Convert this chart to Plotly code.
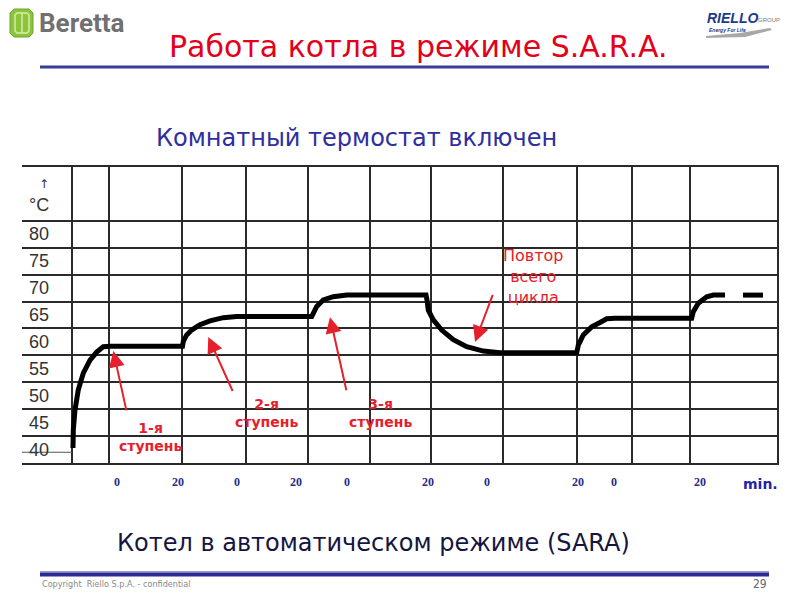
import plotly.graph_objects as go

# ---------------- data ----------------
# temperature band labels (°C)
y_labels = [40, 45, 50, 55, 60, 65, 70, 75, 80]
# horizontal grid boundaries between the temperature bands
h_grid = [42.5, 47.5, 52.5, 57.5, 62.5, 67.5, 72.5, 77.5, 82.5]
# vertical grid lines (running time scale, minutes)
v_grid = [-15, -2.67, 21.67, 43, 63.67, 84.33, 104.67, 128.67, 153.33, 171.67, 191, 220.33]
# x tick labels (each stage restarts at 0)
x_tick_pos = [0, 20.33, 40, 59.67, 76.67, 103.67, 123.33, 153.67, 165.67, 194.33]
x_tick_text = ["0", "20", "0", "20", "0", "20", "0", "20", "0", "20"]

# boiler flow temperature curve (None = break before the final dash)
curve_t = [-14.67, -14.57, -14.0, -12.9, -11.23, -9.0, -6.77, -4.57, -2.33,
           21.83, 22.1, 23.23, 24.9, 27.67, 31.0, 35.43, 39.9,
           64.9, 65.43, 66.57, 68.77, 72.1, 76.57,
           103.0, 103.33, 103.77, 105.43, 108.23, 112.1, 116.57, 122.1, 127.67,
           153.23, 153.77, 155.43, 158.23, 161.0, 163.23, 166.0,
           191.57, 192.1, 193.77, 196.57, 198.77, 202.67,
           None, 208.67, 215.33]
curve_temp = [40.3, 43.6, 47.4, 51.1, 54.2, 56.6, 58.1, 59.1, 59.2,
              59.2, 60.1, 61.3, 62.2, 63.2, 63.9, 64.5, 64.7,
              64.7, 65.3, 66.6, 67.8, 68.4, 68.7,
              68.7, 67.8, 65.9, 64.1, 62.2, 60.4, 59.1, 58.3, 58.0,
              58.0, 59.4, 61.3, 62.8, 63.6, 64.3, 64.4,
              64.4, 65.6, 67.2, 68.4, 68.7, 68.7,
              None, 68.7, 68.7]

# stage annotations
stage_labels = ["1-я<br>ступень", "2-я<br>ступень", "3-я<br>ступень", "Повтор<br>всего<br>цикла"]
stage_text_t = [11, 49.9, 87.67, 138.67]
stage_text_temp = [42.3, 46.8, 46.8, 72.1]
arrow_tail_t = [3.23, 38.77, 76.57, 125.43]
arrow_tail_temp = [47.0, 50.6, 50.75, 69.0]
arrow_head_t = [-1.23, 30.43, 71.0, 119.33]
arrow_head_temp = [58.3, 60.9, 64.6, 60.0]

# ---------------- layout geometry ----------------
W, H = 800, 600
L, R, T, B = 22, 779, 167, 463
X0, X1 = (L - 117) / 3, (R - 117) / 3
Y0, Y1 = 37.5, 92.5


def P(px, py):
    """pixel -> paper coordinates (for decorations outside the chart)"""
    return (px - L) / (R - L), (B - py) / (B - T)


def text_at(px, py, text, font, xanchor="center"):
    x, y = P(px, py)
    return dict(x=x, y=y, xref="paper", yref="paper", text=text, showarrow=False,
                xanchor=xanchor, yanchor="middle", font=font)


fig = go.Figure()

fig.add_trace(go.Scatter(
    x=curve_t, y=curve_temp, mode="lines",
    line=dict(color="#000000", width=5), connectgaps=False,
    hoverinfo="skip", showlegend=False))

RED = "#E5202A"
ann = []
for i, txt in enumerate(stage_labels):
    ann.append(dict(x=arrow_head_t[i], y=arrow_head_temp[i], ax=arrow_tail_t[i], ay=arrow_tail_temp[i],
                    xref="x", yref="y", axref="x", ayref="y", text="", showarrow=True,
                    arrowhead=2, arrowsize=1.6, arrowwidth=2, arrowcolor=RED))
    bold = i < 3
    ann.append(dict(x=stage_text_t[i], y=stage_text_temp[i], xref="x", yref="y",
                    text=txt, showarrow=False, xanchor="center", yanchor="middle",
                    font=dict(family="DejaVu Sans", size=14 if bold else 16, color=RED,
                              weight="bold" if bold else "normal")))

# y band labels
for v in y_labels:
    ann.append(dict(x=-30, y=v, xref="x", yref="y", text=str(v), showarrow=False,
                    xanchor="left", yanchor="middle",
                    font=dict(family="Liberation Sans", size=18, color="#333333")))
ann.append(dict(x=-30 + 3.3, y=89.4, xref="x", yref="y", text="↑", showarrow=False,
                xanchor="left", yanchor="middle", font=dict(family="DejaVu Sans", size=12, color="#333333")))
ann.append(dict(x=-30, y=85.5, xref="x", yref="y", text="°C", showarrow=False,
                xanchor="left", yanchor="middle", font=dict(family="Liberation Sans", size=18, color="#333333")))

ann.append(text_at(760, 484, "<b>min.</b>", dict(family="DejaVu Sans", size=14, color="#2323A8")))

# titles
ann.append(text_at(418, 47, "Работа котла в режиме S.A.R.A.",
                   dict(family="DejaVu Sans", size=30, color="#E3001B")))
ann.append(text_at(356, 138, "Комнатный термостат включен",
                   dict(family="DejaVu Sans", size=24, color="#2E2E9E")))
ann.append(text_at(373, 543, "Котел в автоматическом режиме (SARA)",
                   dict(family="DejaVu Sans", size=24, color="#15153F")))

# footer
ann.append(text_at(40, 584, "Copyright  Riello S.p.A. - confidential",
                   dict(family="DejaVu Sans Condensed", size=9, color="#888888"), "left"))
ann.append(text_at(769, 584, "29",
                   dict(family="DejaVu Sans Condensed", size=12, color="#666666"), "right"))

# logos (text parts)
ann.append(text_at(37, 23, "<b>Beretta</b>", dict(family="Roboto", size=26, color="#707070"), "left"))
ann.append(text_at(705, 18, "<b><i>RIELLO</i></b>",
                   dict(family="Liberation Sans", size=14, color="#1C3A8C"), "left"))
ann.append(text_at(756, 20, "GROUP", dict(family="Liberation Sans", size=6, color="#777777"), "left"))
ann.append(text_at(707, 30, "<b><i>Energy For Life</i></b>",
                   dict(family="Liberation Sans", size=5, color="#1C3A8C"), "left"))

shapes = []
# strike line through the "40" label area
shapes.append(dict(type="line", xref="x", yref="y", x0=X0, x1=v_grid[0], y0=39.5, y1=39.5,
                   line=dict(color="#555555", width=1.2)))
# header rule
a0 = P(40, 67); a1 = P(769, 67)
shapes.append(dict(type="line", xref="paper", yref="paper", x0=a0[0], x1=a1[0], y0=a0[1], y1=a1[1],
                   line=dict(color="#9A9AD0", width=4)))
shapes.append(dict(type="line", xref="paper", yref="paper", x0=a0[0], x1=a1[0], y0=a0[1], y1=a1[1],
                   line=dict(color="#3C3C98", width=2)))
# footer rule
a0 = P(40, 574); a1 = P(769, 574)
shapes.append(dict(type="line", xref="paper", yref="paper", x0=a0[0], x1=a1[0], y0=a0[1], y1=a1[1],
                   line=dict(color="#2A2A90", width=5)))
a0 = P(40, 572); a1 = P(769, 572)
shapes.append(dict(type="line", xref="paper", yref="paper", x0=a0[0], x1=a1[0], y0=a0[1], y1=a1[1],
                   line=dict(color="#9C9CD6", width=1.5)))


def path(points, close=True):
    s = ""
    for k, (px, py) in enumerate(points):
        x, y = P(px, py)
        s += ("M" if k == 0 else "L") + f"{x:.5f},{y:.5f} "
    return s + ("Z" if close else "")


# Beretta icon (rounded green badge)
icon = [(14, 9), (29, 9), (33, 13), (33, 33), (29, 37), (14, 37), (10, 33), (10, 13)]
shapes.append(dict(type="path", xref="paper", yref="paper", path=path(icon),
                   fillcolor="#8CC43C", line=dict(color="#6FA42A", width=1)))
inner = [(17, 13), (27, 13), (29, 15), (29, 31), (27, 33), (17, 33), (15, 31), (15, 15)]
shapes.append(dict(type="path", xref="paper", yref="paper", path=path(inner),
                   fillcolor="rgba(0,0,0,0)", line=dict(color="#D6EDA8", width=1.5)))
shapes.append(dict(type="line", xref="paper", yref="paper", x0=P(22, 13)[0], x1=P(22, 33)[0],
                   y0=P(22, 13)[1], y1=P(22, 33)[1], line=dict(color="#D6EDA8", width=1.5)))
# Riello swoosh
sw = [(706, 36), (740, 33), (770, 28), (772, 30), (745, 37), (706, 38)]
shapes.append(dict(type="path", xref="paper", yref="paper", path=path(sw),
                   fillcolor="#A8A8A8", line=dict(width=0)))

fig.update_layout(
    width=W, height=H,
    margin=dict(l=L, r=W - R, t=T, b=H - B, pad=0),
    paper_bgcolor="white", plot_bgcolor="white",
    showlegend=False,
    annotations=ann, shapes=shapes,
    xaxis=dict(range=[X0, X1], showgrid=False, zeroline=False,
               showline=True, mirror=True, linecolor="#2a2a2a", linewidth=2,
               tickmode="array", tickvals=x_tick_pos, ticktext=x_tick_text,
               ticks="", ticklabelstandoff=7,
               tickfont=dict(family="Liberation Serif", size=12, color="#2B2B88", weight="bold"),
               minor=dict(tickmode="array", tickvals=v_grid, showgrid=True,
                          gridcolor="#2a2a2a", gridwidth=1.5, ticks="")),
    yaxis=dict(range=[Y0, Y1], showgrid=False, zeroline=False, showline=False,
               showticklabels=False, ticks="",
               minor=dict(tickmode="array", tickvals=h_grid, showgrid=True,
                          gridcolor="#2a2a2a", gridwidth=1.8, ticks="")),
)

fig.write_html("out.html")
